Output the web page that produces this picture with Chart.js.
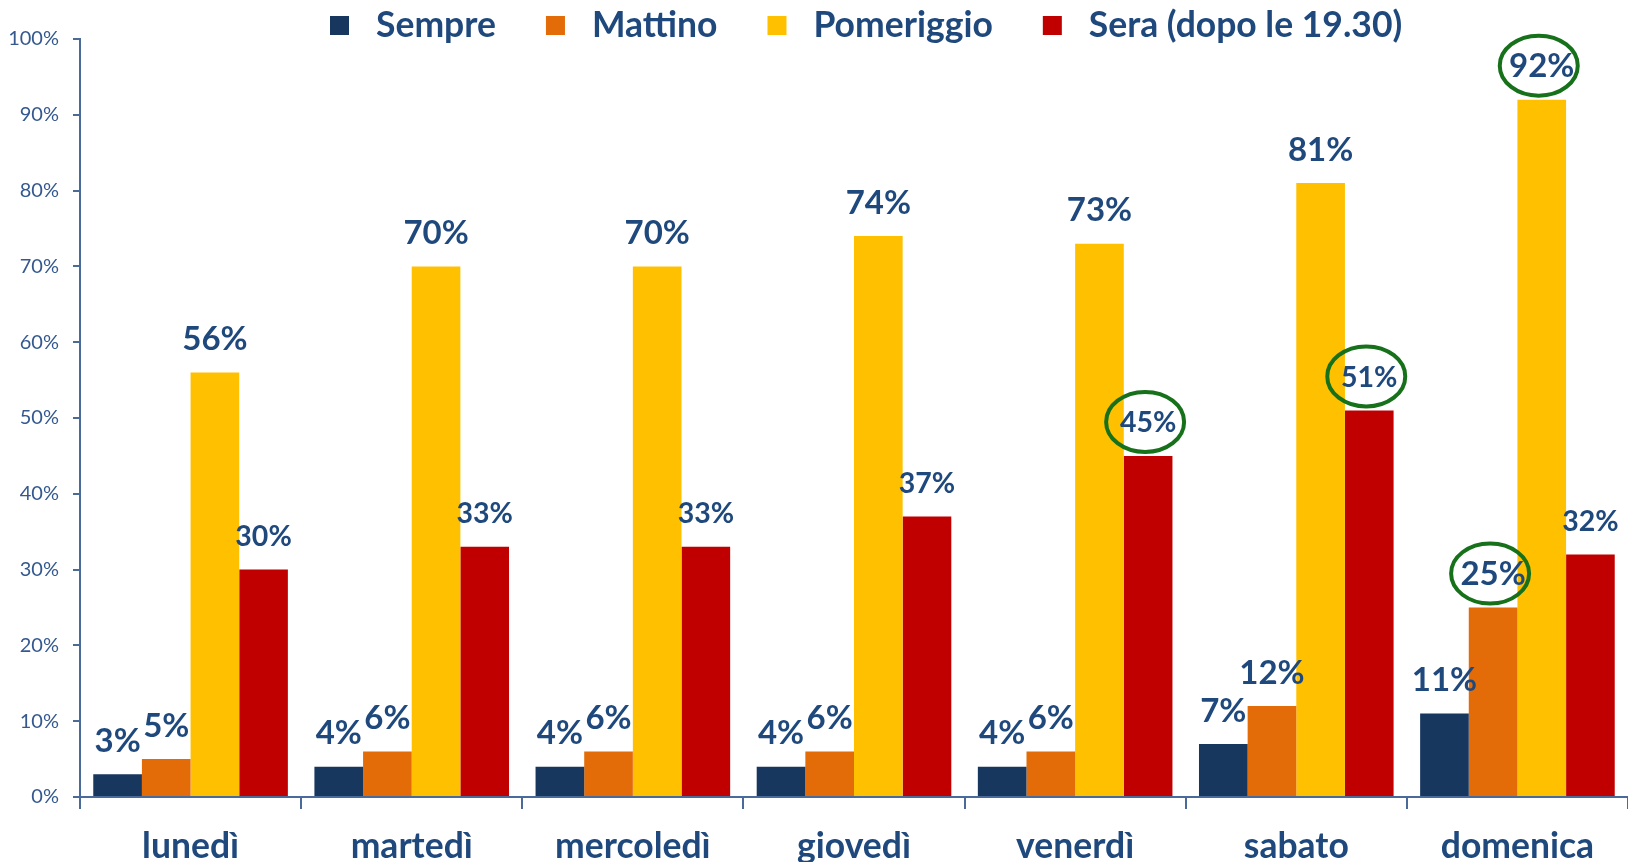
<!DOCTYPE html>
<html lang="it">
<head>
<meta charset="utf-8">
<title>Fasce orarie per giorno</title>
<script src="https://cdn.jsdelivr.net/npm/chart.js@4.4.1/dist/chart.umd.min.js"></script>
<style>
  html, body { margin: 0; padding: 0; background: #fff; overflow: hidden; }
  #grafico { display: block; }
</style>
</head>
<body>
<canvas id="grafico" width="1628" height="862"></canvas>
<script>
const giorni = ['lunedì', 'martedì', 'mercoledì', 'giovedì', 'venerdì', 'sabato', 'domenica'];
const fasce = ['Sempre', 'Mattino', 'Pomeriggio', 'Sera (dopo le 19.30)'];
const sempre = [3, 4, 4, 4, 4, 7, 11];
const mattino = [5, 6, 6, 6, 6, 12, 25];
const pomeriggio = [56, 70, 70, 74, 73, 81, 92];
const sera = [30, 33, 33, 37, 45, 51, 32];
const colori = ['#17375e', '#e36c09', '#ffc000', '#c00000'];
// valori cerchiati in verde: [serie, giorno]
const evidenziati = [[3, 4], [3, 5], [2, 6], [1, 6]];

const FONT = 'Lato, "Open Sans", sans-serif';
const BLU = '#1f497d';
const ASSE = '#4a6a9a';

// etichette sopra le barre (e cerchi verdi)
const etichette = {
  id: 'etichette',
  afterDatasetsDraw(chart) {
    const ctx = chart.ctx;
    ctx.save();
    ctx.textAlign = 'center';
    ctx.textBaseline = 'middle';
    chart.data.datasets.forEach((ds, i) => {
      ctx.font = 'bold ' + (i === 3 ? 28.5 : 33) + 'px ' + FONT;
      chart.getDatasetMeta(i).data.forEach((bar, j) => {
        const y = bar.y - 33;
        ctx.fillStyle = BLU;
        ctx.fillText(ds.data[j] + '%', bar.x, y);
        if (evidenziati.some(e => e[0] === i && e[1] === j)) {
          ctx.beginPath();
          ctx.ellipse(bar.x - 3, y - 1, 39, 30, 0, 0, Math.PI * 2);
          ctx.strokeStyle = '#17701a';
          ctx.lineWidth = 4;
          ctx.stroke();
        }
      });
    });
    ctx.restore();
  }
};

// legenda in alto
const legenda = {
  id: 'legenda',
  afterDraw(chart) {
    const ctx = chart.ctx;
    ctx.save();
    ctx.font = 'bold 35.5px ' + FONT;
    ctx.textBaseline = 'middle';
    let x = 330;
    const y = 26;
    chart.data.datasets.forEach(ds => {
      ctx.fillStyle = ds.backgroundColor;
      ctx.fillRect(x, y - 10, 19, 19);
      x += 19 + 27;
      ctx.fillStyle = BLU;
      ctx.fillText(ds.label, x, y);
      x += ctx.measureText(ds.label).width + 50;
    });
    ctx.restore();
  }
};

new Chart(document.getElementById('grafico'), {
  type: 'bar',
  data: {
    labels: giorni,
    datasets: [
      { label: fasce[0], data: sempre, backgroundColor: colori[0] },
      { label: fasce[1], data: mattino, backgroundColor: colori[1] },
      { label: fasce[2], data: pomeriggio, backgroundColor: colori[2] },
      { label: fasce[3], data: sera, backgroundColor: colori[3] }
    ]
  },
  options: {
    responsive: false,
    animation: false,
    categoryPercentage: 0.88,
    barPercentage: 1,
    layout: { padding: { top: 39, left: 0, right: 0, bottom: 0 } },
    plugins: {
      legend: { display: false },
      tooltip: { enabled: false }
    },
    scales: {
      x: {
        grid: { display: true, drawOnChartArea: false, drawTicks: true, tickLength: 12, color: ASSE, lineWidth: 2 },
        border: { display: true, color: ASSE, width: 2 },
        ticks: { color: BLU, padding: 16, font: { family: FONT, size: 35.5, weight: 'bold' } },
        afterFit(scale) { scale.height = 65; }
      },
      y: {
        min: 0,
        max: 100,
        grid: { display: true, drawOnChartArea: false, drawTicks: true, tickLength: 7, color: ASSE, lineWidth: 2 },
        border: { display: true, color: ASSE, width: 2 },
        ticks: {
          stepSize: 10,
          padding: 14,
          color: '#35598f',
          font: { family: FONT, size: 20 },
          callback: v => v + '%'
        },
        afterFit(scale) { scale.width = 80; }
      }
    }
  },
  plugins: [etichette, legenda]
});
</script>
</body>
</html>
